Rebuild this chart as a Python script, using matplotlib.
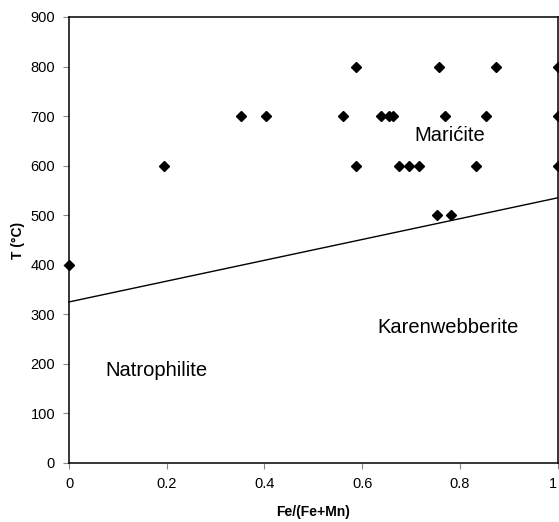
import numpy as np
import matplotlib
matplotlib.use('Agg')
import matplotlib.pyplot as plt

plt.rcParams['font.family'] = ['Liberation Sans', 'DejaVu Sans']

# measured samples: Fe/(Fe+Mn) and temperature
fe_ratio = [0.0, 0.195, 0.352, 0.404, 0.560, 0.587, 0.587, 0.639, 0.656, 0.663,
            0.675, 0.697, 0.716, 0.754, 0.757, 0.770, 0.783, 0.834, 0.854, 0.875,
            1.0, 1.0, 1.0]
temp = [400, 600, 700, 700, 700, 800, 600, 700, 700, 700,
        600, 600, 600, 500, 800, 700, 500, 600, 700, 800,
        800, 700, 600]

# boundary line
line_x = [0.0, 1.0]
line_t = [325, 535]

labels = ['Mari\u0107ite', 'Karenwebberite', 'Natrophilite']
label_x = [0.78, 0.775, 0.178]
label_t = [660, 274, 186]

fig = plt.figure(figsize=(5.59, 5.22), dpi=100)
ax = fig.add_axes([69/559, 1-463/522, 488.5/559, 446/522])

ax.plot(line_x, line_t, color='black', lw=1.0, clip_on=False, zorder=2)
ax.plot(fe_ratio, temp, 'D', color='black', ms=5.5, clip_on=False, zorder=3)

for s, x, t in zip(labels, label_x, label_t):
    ax.text(x, t, s, ha='center', va='center', fontsize=14.5)

ax.set_xlim(0, 1)
ax.set_ylim(0, 900)
ax.set_xticks([0, 0.2, 0.4, 0.6, 0.8, 1])
ax.set_xticklabels(['0', '0.2', '0.4', '0.6', '0.8', '1'])
ax.set_yticks(range(0, 1000, 100))
ax.tick_params(direction='out', length=4, width=0.8, labelsize=10.5, pad=6, color='#888888')
# keep the last label inside the figure
ax.get_xticklabels()[-1].set_horizontalalignment('right')
for sp in ax.spines.values():
    sp.set_linewidth(1.1)

ax.set_xlabel('Fe/(Fe+Mn)', fontsize=10, fontweight='bold', labelpad=10)
ax.set_ylabel('T (\u00b0C)', fontsize=10, fontweight='bold', labelpad=4)

fig.savefig('out.png', dpi=100)
